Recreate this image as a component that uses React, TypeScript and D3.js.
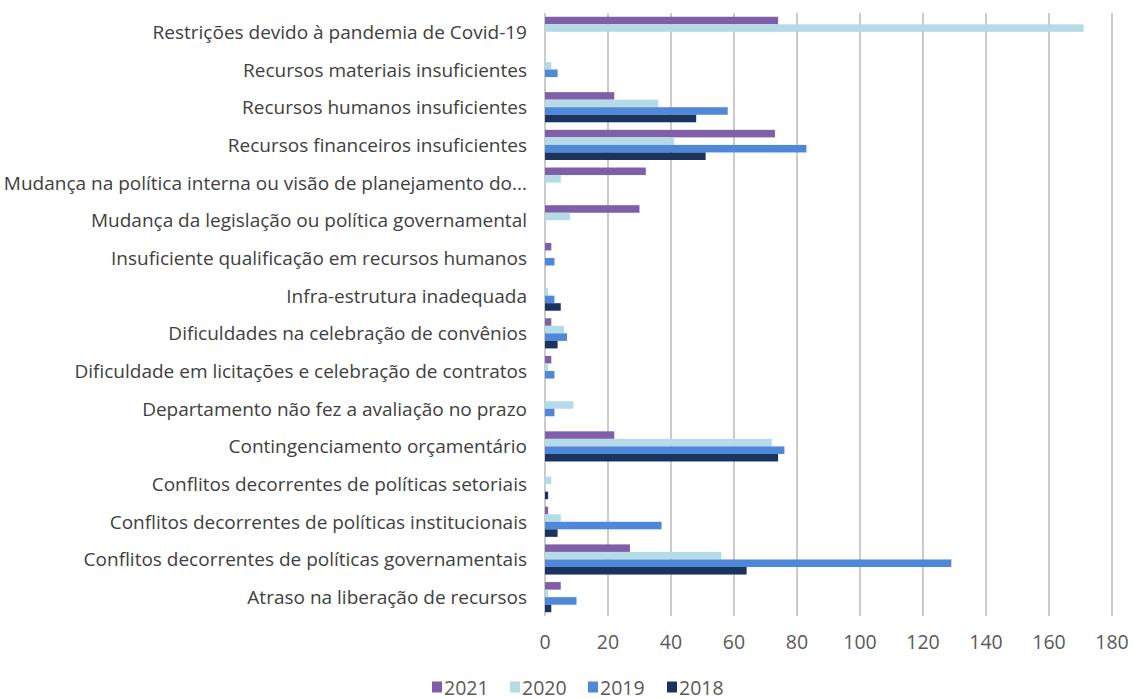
import React from "react";
import * as d3 from "d3";

const categories: string[] = [
  "Restrições devido à pandemia de Covid-19",
  "Recursos materiais insuficientes",
  "Recursos humanos insuficientes",
  "Recursos financeiros insuficientes",
  "Mudança na política interna ou visão de planejamento do...",
  "Mudança da legislação ou política governamental",
  "Insuficiente qualificação em recursos humanos",
  "Infra-estrutura inadequada",
  "Dificuldades na celebração de convênios",
  "Dificuldade em licitações e celebração de contratos",
  "Departamento não fez a avaliação no prazo",
  "Contingenciamento orçamentário",
  "Conflitos decorrentes de políticas setoriais",
  "Conflitos decorrentes de políticas institucionais",
  "Conflitos decorrentes de políticas governamentais",
  "Atraso na liberação de recursos",
];

const seriesNames: string[] = ["2021", "2020", "2019", "2018"];

const values2021: number[] = [74, 0, 22, 73, 32, 30, 2, 0, 2, 2, 0, 22, 0, 1, 27, 5];
const values2020: number[] = [171, 2, 36, 41, 5, 8, 0, 1, 6, 1, 9, 72, 2, 5, 56, 1];
const values2019: number[] = [0, 4, 58, 83, 0, 0, 3, 3, 7, 3, 3, 76, 0, 37, 129, 10];
const values2018: number[] = [0, 0, 48, 51, 0, 0, 0, 5, 4, 0, 0, 74, 1, 4, 64, 2];

const xTicks: number[] = [0, 20, 40, 60, 80, 100, 120, 140, 160, 180];

const colors: string[] = ["#7f60a8", "#b5dbe7", "#4f88d8", "#1a345f"];

const W = 1133;
const H = 699;
const FONT = "'Open Sans', Lato, sans-serif";

export default function App() {
  const seriesValues = [values2021, values2020, values2019, values2018];

  const x = d3.scaleLinear().domain([0, 180]).range([545, 1112]);
  const y = d3
    .scaleBand<string>()
    .domain(categories)
    .range([13, 616])
    .paddingInner(0.2)
    .paddingOuter(0.1);
  const ySub = d3
    .scaleBand<string>()
    .domain(seriesNames)
    .range([0, y.bandwidth()])
    .padding(0);

  // legend entries laid out left to right
  const legendX = [432, 510, 588, 667];
  const legendY = 686;

  return (
    <svg
      width={W}
      height={H}
      style={{ position: "absolute", left: 0, top: 0, background: "#fff" }}
      fontFamily={FONT}
    >
      {/* vertical gridlines */}
      {xTicks.map((t) => (
        <line
          key={"g" + t}
          x1={x(t)}
          x2={x(t)}
          y1={13}
          y2={616}
          stroke="#a8a8a8"
          strokeWidth={1.2}
        />
      ))}

      {/* bars */}
      {categories.map((c, i) => (
        <g key={c} transform={`translate(0,${y(c)})`}>
          {seriesNames.map((s, k) => {
            const v = seriesValues[k][i];
            if (!v) return null;
            return (
              <rect
                key={s}
                x={x(0)}
                y={ySub(s)}
                width={x(v) - x(0)}
                height={ySub.bandwidth()}
                fill={colors[k]}
              />
            );
          })}
        </g>
      ))}

      {/* category labels */}
      {categories.map((c) => (
        <text
          key={"l" + c}
          x={527}
          y={(y(c) ?? 0) + y.bandwidth() / 2}
          textAnchor="end"
          dominantBaseline="central"
          fontSize={19}
          fill="#404040"
        >
          {c}
        </text>
      ))}

      {/* x tick labels */}
      {xTicks.map((t) => (
        <text
          key={"t" + t}
          x={x(t)}
          y={641}
          textAnchor="middle"
          dominantBaseline="central"
          fontSize={19.5}
          fill="#595959"
        >
          {t}
        </text>
      ))}

      {/* legend */}
      {seriesNames.map((s, k) => (
        <g key={"lg" + s} transform={`translate(${legendX[k]},${legendY})`}>
          <rect x={0} y={-4.5} width={10} height={11} fill={colors[k]} />
          <text
            x={12}
            y={1}
            dominantBaseline="central"
            fontSize={19.5}
            fill="#595959"
          >
            {s}
          </text>
        </g>
      ))}
    </svg>
  );
}
